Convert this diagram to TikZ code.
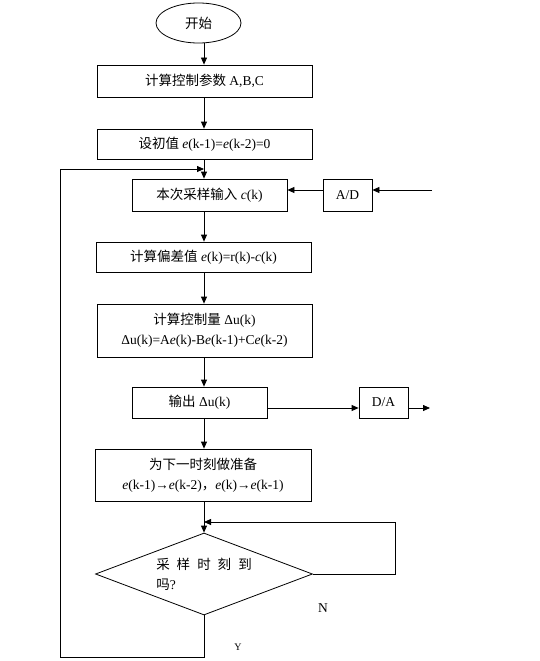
\documentclass[tikz,border=0pt]{standalone}
\usepackage{fontspec}
\setmainfont{Liberation Serif}
\newfontfamily\cjk{Noto Sans CJK SC}
\usetikzlibrary{arrows.meta,shapes.geometric}
\begin{document}
\begin{tikzpicture}[x=1pt,y=-1pt,line width=0.8pt,
  every node/.style={font=\fontsize{13.5}{16}\selectfont},
  box/.style={draw,inner sep=0pt,align=center},
  arr/.style={-{Triangle[length=7pt,width=6pt]}}]
\useasboundingbox (0,0) rectangle (540,661);
\coordinate (ax) at (204,0);
\node[draw,ellipse,minimum width=85pt,minimum height=40pt,inner sep=0pt] (start) at (198.5,23) {\cjk 开始};
\node[box,minimum width=215pt,minimum height=32pt] (b1) at (204.5,81) {{\cjk 计算控制参数} A,B,C};
\node[box,minimum width=215pt,minimum height=30pt] (b2) at (204.5,144) {{\cjk 设初值} \textit{e}(k-1)=\textit{e}(k-2)=0};
\node[box,minimum width=155pt,minimum height=32pt] (b3) at (209.5,195) {{\cjk 本次采样输入} \textit{c}(k)};
\node[box,minimum width=49pt,minimum height=32pt] (ad) at (347.5,195) {A/D};
\node[box,minimum width=215pt,minimum height=30pt] (b4) at (203.5,257) {{\cjk 计算偏差值} \textit{e}(k)=r(k)-\textit{c}(k)};
\node[box,minimum width=215pt,minimum height=53pt] (b5) at (204.5,330.5) {{\cjk 计算控制量} Δu(k)\\[4pt]Δu(k)=A\textit{e}(k)-B\textit{e}(k-1)+C\textit{e}(k-2)};
\node[box,minimum width=135pt,minimum height=31pt] (b6) at (199.5,402.5) {{\cjk 输出} Δu(k)};
\node[box,minimum width=49pt,minimum height=31pt] (da) at (383.5,402.5) {D/A};
\node[box,minimum width=216pt,minimum height=52pt] (b7) at (203,475) {{\cjk 为下一时刻做准备}\\[4pt]\textit{e}(k-1)→\textit{e}(k-2){\cjk ，}\textit{e}(k)→\textit{e}(k-1)};
\node[draw,diamond,aspect=2.65,minimum width=217pt,minimum height=82pt,inner sep=0pt,align=left] (dec) at (204,574)
  {{\cjk 采\hspace{7pt}样\hspace{7pt}时\hspace{7pt}刻\hspace{7pt}到}\\[4pt]{\cjk 吗}?};
\node (nl) at (323,608) {N};
\node[font=\fontsize{10}{12}\selectfont] (yl) at (238,647) {Y};
% main flow
\draw[arr] (start.south -| ax) -- (b1.north -| ax);
\draw[arr] (b1.south -| ax) -- (b2.north -| ax);
\draw[arr] (b2.south -| ax) -- (b3.north -| ax);
\draw[arr] (b3.south -| ax) -- (b4.north -| ax);
\draw[arr] (b4.south -| ax) -- (b5.north -| ax);
\draw[arr] (b5.south -| ax) -- (b6.north -| ax);
\draw[arr] (b6.south -| ax) -- (b7.north -| ax);
\draw[arr] (b7.south -| ax) -- (dec.north);
% A/D input
\coordinate (adin) at (432,190);
\draw[arr] (adin) -- (adin -| ad.east);
\draw[arr] (ad.west |- adin) -- (b3.east |- adin);
% D/A output
\coordinate (daout) at (430,408);
\draw[arr] (b6.east |- daout) -- (da.west |- daout);
\draw[arr] (da.east |- daout) -- (daout);
% N loop
\coordinate (nr) at (395,522);
\draw[arr] (dec.east) -| (nr) -- (nr -| ax);
% Y loop
\coordinate (yb) at (60,657);
\coordinate (yt) at (60,169);
\draw[arr] (dec.south) |- (yb) -- (yt) -- (yt -| ax);
\end{tikzpicture}
\end{document}
